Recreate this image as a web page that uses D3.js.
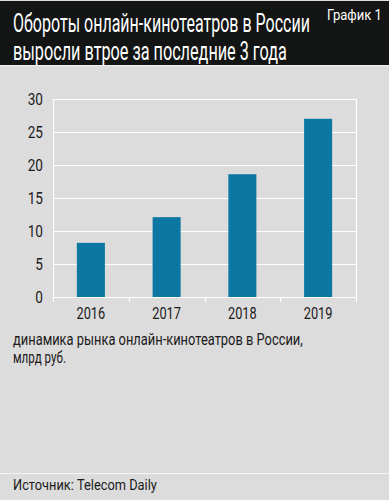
<!DOCTYPE html>
<html>
<head>
<meta charset="utf-8">
<script src="https://cdn.jsdelivr.net/npm/d3@7"></script>
<style>
  body { margin: 0; background: #dddcdc; }
  svg text { font-family: "Roboto", "Liberation Sans", sans-serif; }
</style>
</head>
<body>
<svg id="chart" width="389" height="500"></svg>
<script>
"use strict"
// Online cinema market in Russia, bn rub
var years = ["2016", "2017", "2018", "2019"],
    values = [8.2, 12.1, 18.6, 27],
    yTicks = [0, 5, 10, 15, 20, 25, 30],
    titleLines = ["Обороты онлайн-кинотеатров в России", "выросли втрое за последние 3 года"],
    noteLines = ["динамика рынка онлайн-кинотеатров в России,", "млрд руб."],
    source = "Источник: Telecom Daily",
    chartNo = "График 1";

var svg = d3.select("svg#chart"),
    width = +svg.attr("width"),
    height = +svg.attr("height"),
    margin = {top: 99, right: 33, bottom: 203, left: 53},
    narrow = 0.8,                   // the original uses a condensed face, squeeze glyphs to fake it
    x = d3.scaleBand().domain(years).range([margin.left, width - margin.right]).paddingInner(0.63).paddingOuter(0.315),
    xb = d3.scaleBand().domain(years).range([margin.left, width - margin.right]),
    y = d3.scaleLinear().domain([0, 30]).range([height - margin.bottom, margin.top]);

// Puts text at (px, py) and squeezes it horizontally, either by factor k or to a target width
function place(sel, px, py, k, target) {
  sel.each(function(d, i) {
    var t = d3.select(this),
        w = this.getComputedTextLength(),
        s = target ? target(d, i) / w : k;
    t.attr("x", 0).attr("y", 0)
     .attr("transform", "translate(" + px(d, i) + "," + py(d, i) + ") scale(" + s + ",1)");
  });
}
function constant(v) { return function() { return v; }; }

// background panel
svg.append("rect").attr("width", width).attr("height", height).attr("fill", "#dddcdc");

// header
svg.append("rect").attr("x", 0).attr("y", 1).attr("width", width).attr("height", 64).attr("fill", "#121514");
svg.append("line").attr("x1", 0).attr("x2", width).attr("y1", 65.5).attr("y2", 65.5).attr("stroke", "#f0f0f0");

svg.append("g").selectAll("text")
    .data(titleLines)
  .enter().append("text")
    .attr("fill", "#fff")
    .style("font-size", "25px")
    .text(function(d) { return d; })
    .call(place, constant(13), function(d, i) { return 32 + i * 28; }, null,
          function(d, i) { return i == 0 ? 297 : 274; });

svg.append("text")
    .attr("fill", "#fff")
    .style("font-size", "14px")
    .text(chartNo)
    .call(place, constant(327), constant(20), null, constant(55));

// grid lines
svg.append("g").selectAll("line")
    .data(yTicks)
  .enter().append("line")
    .attr("x1", margin.left).attr("x2", width - margin.right)
    .attr("y1", function(d) { return Math.round(y(d)) + 0.5; })
    .attr("y2", function(d) { return Math.round(y(d)) + 0.5; })
    .attr("stroke", "#fff").attr("stroke-width", 1.2);

// frame sides + band ticks
var edges = years.map(function(d) { return xb(d); }).concat([width - margin.right]);
svg.append("g").selectAll("line")
    .data(edges)
  .enter().append("line")
    .attr("x1", function(d) { return Math.round(d) + 0.5; })
    .attr("x2", function(d) { return Math.round(d) + 0.5; })
    .attr("y1", function(d, i) { return (i == 0 || i == edges.length - 1) ? y(30) : y(0); })
    .attr("y2", y(0) + 5)
    .attr("stroke", "#fff").attr("stroke-width", 1.2);

// y labels
svg.append("g").selectAll("text")
    .data(yTicks)
  .enter().append("text")
    .attr("text-anchor", "end")
    .attr("fill", "#1a1a1a")
    .style("font-size", "17px")
    .text(function(d) { return d; })
    .call(place, constant(43), function(d) { return y(d) + 6; }, narrow);

// bars
svg.append("g").selectAll("rect")
    .data(values)
  .enter().append("rect")
    .attr("x", function(d, i) { return x(years[i]); })
    .attr("width", x.bandwidth())
    .attr("y", function(d) { return y(d); })
    .attr("height", function(d) { return y(0) - y(d); })
    .attr("fill", "#0b77a2");

// x labels
svg.append("g").selectAll("text")
    .data(years)
  .enter().append("text")
    .attr("text-anchor", "middle")
    .attr("fill", "#1a1a1a")
    .style("font-size", "16px")
    .text(function(d) { return d; })
    .call(place, function(d) { return xb(d) + xb.bandwidth() / 2; }, constant(319), narrow);

// note
svg.append("g").selectAll("text")
    .data(noteLines)
  .enter().append("text")
    .attr("fill", "#1a1a1a")
    .style("font-size", "16px")
    .text(function(d) { return d; })
    .call(place, constant(13), function(d, i) { return 345 + i * 18; }, null,
          function(d, i) { return i == 0 ? 290 : 53; });

// source
svg.append("line").attr("x1", 0).attr("x2", width).attr("y1", 473.5).attr("y2", 473.5).attr("stroke", "#f4f4f4");
svg.append("text")
    .attr("fill", "#1a1a1a")
    .style("font-size", "15px")
    .text(source)
    .call(place, constant(13), constant(490), null, constant(144));
</script>
</body>
</html>
